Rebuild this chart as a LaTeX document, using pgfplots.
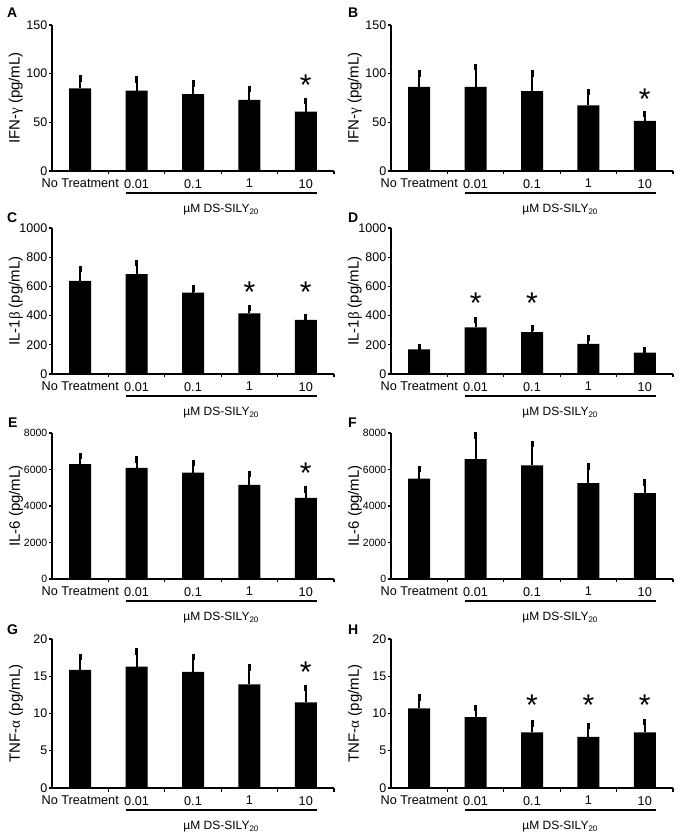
\documentclass[border=0pt]{standalone}
\usepackage{pgfplots}
\pgfplotsset{compat=1.18}
\usepackage{fontspec}
\setmainfont{Liberation Sans}
\newfontfamily\grk{Liberation Serif}
\pgfplotsset{
 base/.style={
  scale only axis, width=282pt, height=146pt, anchor=south west,
  axis lines=left, axis line style={-, line width=1.6pt},
  xmin=-0.5, xmax=4.5, ymin=0,
  xtick={0.5,1.5,2.5,3.5,4.5}, xticklabels={,,,,,},
  extra x ticks={0,1,2,3,4},
  extra x tick labels={No Treatment,0.01,0.1,1,10},
  extra x tick style={major tick length=0pt},
  tick align=outside, major tick length=3.5pt,
  every tick/.style={line width=1.2pt, black},
  x tick label style={font=\fontsize{12.7}{14}\selectfont, inner sep=1pt, yshift=-7pt},
  y tick label style={font=\fontsize{12.5}{14}\selectfont, inner sep=1pt},
  ylabel style={font=\fontsize{15}{17}\selectfont, at={(axis description cs:-0.128,0.5)}, anchor=center},
  /pgf/number format/assume math mode=true,
  /pgf/number format/1000 sep={},
  scaled y ticks=false,
  clip=false,
 },
 bars/.style={ybar, fill=black, draw=none, bar width=22pt,
  error bars/.cd, y dir=plus, y explicit,
  error bar style={line width=2pt, black},
  error mark=-,
  error mark options={mark size=3.2pt, line width=3pt, black}},
}
\newcommand{\subline}{%
 \draw[line width=1.8pt] ([yshift=-22pt]axis cs:0.82,0) -- ([yshift=-22pt]axis cs:4.2,0);
 \node[font=\fontsize{12}{14}\selectfont] at ([yshift=-39pt]axis cs:2.5,0) {µM DS-SILY\textsubscript{20}};}
\newcommand{\sig}[2]{\node[font=\fontsize{30}{30}\selectfont, inner sep=0pt, yshift=-6pt] at (axis cs:#1,#2) {*};}
\begin{document}
\begin{tikzpicture}
\useasboundingbox (0pt,0pt) rectangle (682pt,835pt);
% letters
\begin{scope}[every node/.style={anchor=north west, inner sep=0pt, font=\bfseries\fontsize{14}{16}\selectfont}]
\node at (7pt,827pt) {A};
\node at (348pt,827pt) {B};
\node at (7pt,622pt) {C};
\node at (348pt,622pt) {D};
\node at (8pt,417pt) {E};
\node at (348pt,417pt) {F};
\node at (7pt,210pt) {G};
\node at (348pt,210pt) {H};
\end{scope}
% A
\begin{axis}[base, at={(52pt,664pt)}, ymax=150, ytick={0,50,100,150}, ylabel={IFN-{\grk γ} (pg/mL)}]
\addplot[bars] coordinates {(0,85) +- (0,10) (1,82.5) +- (0,11.5) (2,79) +- (0,11) (3,73) +- (0,11) (4,61) +- (0,11)};
\sig{4}{94}
\subline
\end{axis}
% B
\begin{axis}[base, at={(391pt,664pt)}, ymax=150, ytick={0,50,100,150}, ylabel={IFN-{\grk γ} (pg/mL)}]
\addplot[bars] coordinates {(0,86.5) +- (0,13.5) (1,86.5) +- (0,20.5) (2,82) +- (0,18) (3,67.5) +- (0,13.5) (4,51.5) +- (0,7)};
\sig{4}{80}
\subline
\end{axis}
% C
\begin{axis}[base, at={(52pt,461pt)}, ymax=1000, ytick={0,200,400,600,800,1000}, ylabel={IL-1{\grk β} (pg/mL)}]
\addplot[bars] coordinates {(0,638) +- (0,80) (1,684) +- (0,76) (2,558) +- (0,28) (3,416) +- (0,35) (4,371) +- (0,17)};
\sig{3}{604}
\sig{4}{604}
\subline
\end{axis}
% D
\begin{axis}[base, at={(391pt,461pt)}, ymax=1000, ytick={0,200,400,600,800,1000}, ylabel={IL-1{\grk β} (pg/mL)}]
\addplot[bars] coordinates {(0,169) +- (0,13) (1,320) +- (0,48) (2,286) +- (0,28) (3,206) +- (0,40) (4,146) +- (0,17)};
\sig{1}{524}
\sig{2}{524}
\subline
\end{axis}
% E
\begin{axis}[base, at={(52pt,256pt)}, ymax=8000, ytick={0,2000,4000,6000,8000}, ylabel={IL-6 (pg/mL)},
  y tick label style={font=\fontsize{10.5}{12}\selectfont}]
\addplot[bars] coordinates {(0,6290) +- (0,450) (1,6090) +- (0,460) (2,5830) +- (0,540) (3,5160) +- (0,590) (4,4440) +- (0,460)};
\sig{4}{6150}
\subline
\end{axis}
% F
\begin{axis}[base, at={(391pt,256pt)}, ymax=8000, ytick={0,2000,4000,6000,8000}, ylabel={IL-6 (pg/mL)},
  y tick label style={font=\fontsize{10.5}{12}\selectfont}]
\addplot[bars] coordinates {(0,5500) +- (0,515) (1,6575) +- (0,1285) (2,6230) +- (0,1170) (3,5260) +- (0,900) (4,4710) +- (0,570)};
\subline
\end{axis}
% G
\begin{axis}[base, at={(52pt,47pt)}, height=149pt, ymax=20, ytick={0,5,10,15,20}, ylabel={TNF-{\grk α} (pg/mL)}]
\addplot[bars] coordinates {(0,15.85) +- (0,1.7) (1,16.3) +- (0,2.0) (2,15.6) +- (0,1.95) (3,13.9) +- (0,2.25) (4,11.5) +- (0,1.95)};
\sig{4}{16.4}
\subline
\end{axis}
% H
\begin{axis}[base, at={(391pt,47pt)}, height=149pt, ymax=20, ytick={0,5,10,15,20}, ylabel={TNF-{\grk α} (pg/mL)}]
\addplot[bars] coordinates {(0,10.7) +- (0,1.45) (1,9.53) +- (0,1.2) (2,7.45) +- (0,1.2) (3,6.86) +- (0,1.5) (4,7.45) +- (0,1.4)};
\sig{2}{11.9}
\sig{3}{11.9}
\sig{4}{11.9}
\subline
\end{axis}
\end{tikzpicture}
\end{document}
